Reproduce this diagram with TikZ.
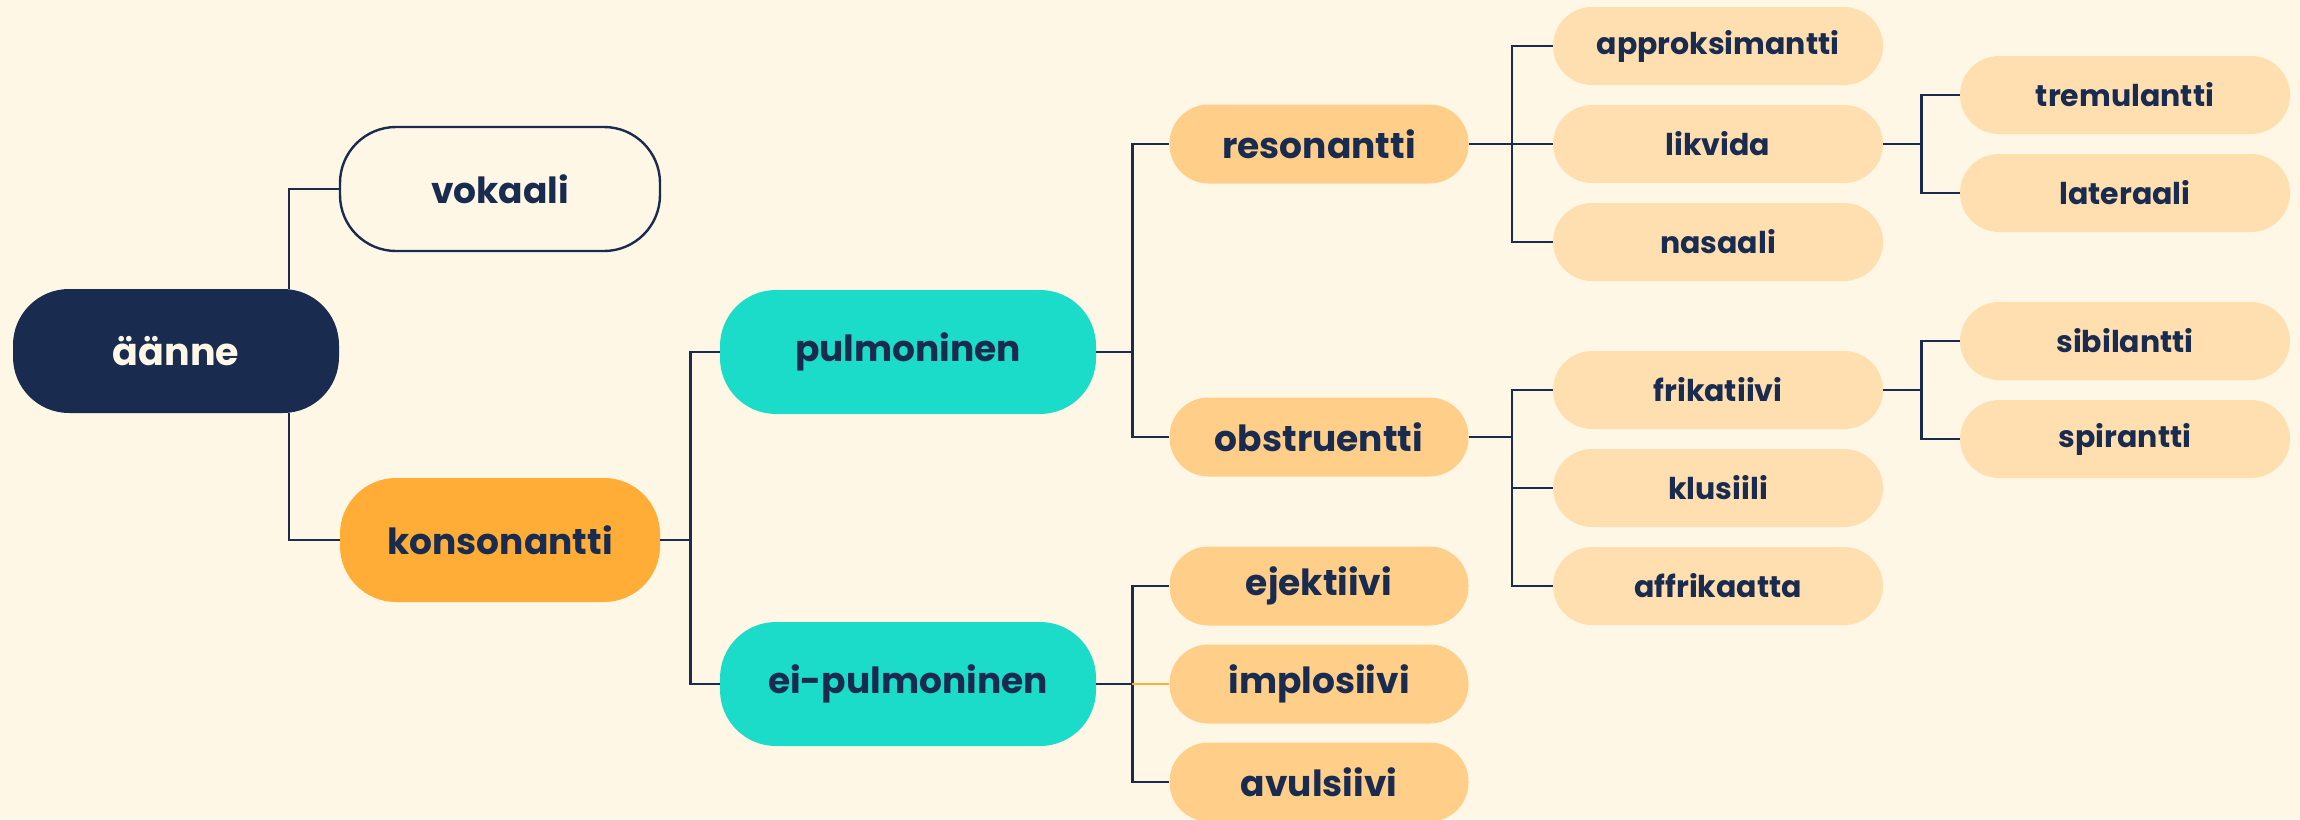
\documentclass[tikz,border=0pt]{standalone}
\usepackage{fontspec}
\setmainfont{Poppins}
\definecolor{tausta}{HTML}{FFF7E6}
\definecolor{tumma}{HTML}{1A2B50}
\definecolor{oranssi}{HTML}{FFAD36}
\definecolor{turkoosi}{HTML}{1BDCC9}
\definecolor{persikka}{HTML}{FFCF8A}
\definecolor{vaalea}{HTML}{FFDFAF}

\begin{document}
\begin{tikzpicture}[x=0.5pt, y=-0.5pt,
  solmu/.style={rectangle, font=\bfseries, text=tumma, inner sep=0pt},
  iso/.style={solmu, minimum width=160pt, minimum height=62pt, rounded corners=28pt, font=\bfseries\fontsize{18}{21}\selectfont},
  keski/.style={solmu, fill=persikka, minimum width=149.5pt, minimum height=39.5pt, rounded corners=19.5pt, font=\bfseries\fontsize{18}{21}\selectfont},
  pieni/.style={solmu, fill=vaalea, minimum width=165pt, minimum height=39pt, rounded corners=19.5pt, font=\bfseries\fontsize{15}{18}\selectfont},
  viiva/.style={draw=tumma, line width=1.2pt}]
\useasboundingbox (0,0) rectangle (2300,819);
\fill[tausta] (0,0) rectangle (2300,819);
\clip (0,0) rectangle (2300,819);

% juuri ja ensimmainen taso
\node[iso, fill=tumma, text=tausta, minimum width=163pt, font=\bfseries\fontsize{19}{22}\selectfont] (aanne) at (176,351) {äänne};
\node[iso, fill=tausta, draw=tumma, line width=1.2pt] (vokaali) at (500,189) {vokaali};
\node[iso, fill=oranssi] (konsonantti) at (500,540) {konsonantti};

\node[iso, fill=turkoosi, minimum width=188pt] (pulm) at (908,352) {pulmoninen};
\node[iso, fill=turkoosi, minimum width=188pt] (eipulm) at (908,684) {ei-pulmoninen};

% kolmas taso
\node[keski] (resonantti) at (1319,144) {resonantti};
\node[keski] (obstruentti) at (1319,437) {obstruentti};
\node[keski] (ejektiivi) at (1319,586) {ejektiivi};
\node[keski] (implosiivi) at (1319,684) {implosiivi};
\node[keski] (avulsiivi) at (1319,782) {avulsiivi};

% neljas taso
\node[pieni] (approks) at (1718,46) {approksimantti};
\node[pieni] (likvida) at (1718,144) {likvida};
\node[pieni] (nasaali) at (1718,242) {nasaali};
\node[pieni] (frikatiivi) at (1718,390) {frikatiivi};
\node[pieni] (klusiili) at (1718,488) {klusiili};
\node[pieni] (affrikaatta) at (1718,586) {affrikaatta};

% viides taso
\node[pieni] (tremulantti) at (2125,95) {tremulantti};
\node[pieni] (lateraali) at (2125,193) {lateraali};
\node[pieni] (sibilantti) at (2125,341) {sibilantti};
\node[pieni] (spirantti) at (2125,439) {spirantti};

% haarat
\draw[viiva] ([xshift=56.5pt]aanne.north) |- (vokaali.west);
\draw[viiva] ([xshift=56.5pt]aanne.south) |- (konsonantti.west);

\draw[viiva] (konsonantti.east) -- ++(30,0) coordinate (k1);
\draw[viiva] (k1) |- (pulm.west);
\draw[viiva] (k1) |- (eipulm.west);

\draw[viiva] (pulm.east) -- ++(36,0) coordinate (p1);
\draw[viiva] (p1) |- (resonantti.west);
\draw[viiva] (p1) |- (obstruentti.west);

\draw[viiva] (eipulm.east) -- ++(36,0) coordinate (e1);
\draw[viiva] (e1) |- (ejektiivi.west);
\draw[viiva] (e1) |- (avulsiivi.west);
\draw[draw=oranssi, line width=1.2pt] (e1) -- (implosiivi.west);

\draw[viiva] (resonantti.east) -- ++(43,0) coordinate (r1);
\draw[viiva] (r1) |- (approks.west);
\draw[viiva] (r1) -- (likvida.west);
\draw[viiva] (r1) |- (nasaali.west);

\draw[viiva] (obstruentti.east) -- ++(43,0) coordinate (o1);
\draw[viiva] (o1) |- (frikatiivi.west);
\draw[viiva] (o1) |- (klusiili.west);
\draw[viiva] (o1) |- (affrikaatta.west);

\draw[viiva] (likvida.east) -- ++(38,0) coordinate (l1);
\draw[viiva] (l1) |- (tremulantti.west);
\draw[viiva] (l1) |- (lateraali.west);

\draw[viiva] (frikatiivi.east) -- ++(38,0) coordinate (f1);
\draw[viiva] (f1) |- (sibilantti.west);
\draw[viiva] (f1) |- (spirantti.west);
\end{tikzpicture}
\end{document}
